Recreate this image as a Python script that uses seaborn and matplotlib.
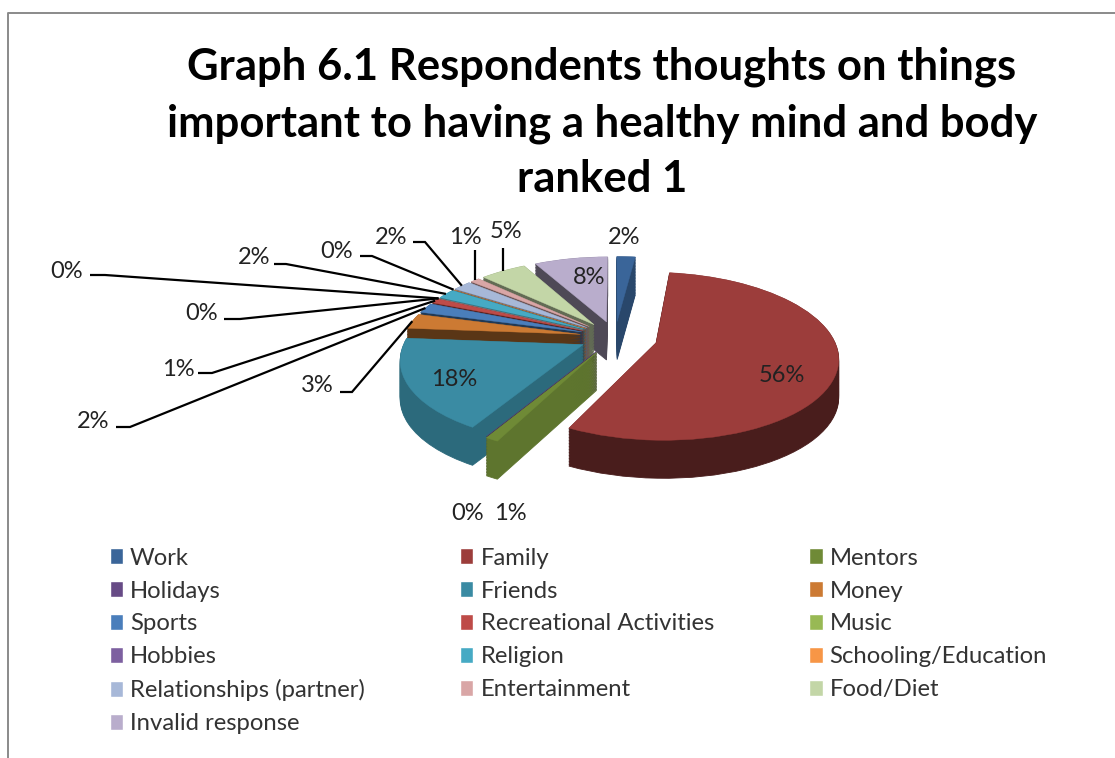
import matplotlib

matplotlib.use('Agg')
import matplotlib.pyplot as plt
import matplotlib.transforms as mtransforms
import numpy as np
import seaborn as sns
from matplotlib.colors import to_rgb
from matplotlib.patches import Patch

title = "Graph 6.1 Respondents thoughts on things\nimportant to having a healthy mind and body\nranked 1"
categories = ['Work', 'Family', 'Mentors', 'Holidays', 'Friends', 'Money', 'Sports',
              'Recreational Activities', 'Music', 'Hobbies', 'Religion',
              'Schooling/Education', 'Relationships (partner)', 'Entertainment',
              'Food/Diet', 'Invalid response']
values = [2, 56, 1, 0, 18, 3, 2, 1, 0, 0, 2, 0, 2, 1, 5, 8]
colors = ['#3a6599', '#9c3d3b', '#6f8a36', '#674b86', '#3a8ba3', '#cc7a33', '#4a7ebb', '#be4b48',
          '#98b954', '#7d60a0', '#46aac4', '#f79646', '#a7b8d8', '#d9a6a6', '#c3d6a7', '#b9adcc']
side_shade = [0.7, 0.47, 0.85, 0.5, 0.76, 0.44, 0.45, 0.45, 0.5, 0.5, 0.5, 0.5, 0.5, 0.5, 0.5, 0.42]
explode = [0.2, 0.24, 0.21, 0.2, 0.2, 0.2, 0.2, 0.2, 0.2, 0.2, 0.2, 0.2, 0.2, 0.2, 0.2, 0.2]

# where the percentages sit, in pixels
label_pos = [(624, 237), (782, 376), (510, 514), (468, 514), (454, 380), (317, 386),
             (93, 422), (178, 369), (202, 313), (67, 271), (254, 258), (337, 251),
             (391, 237), (465, 238), (506, 232), (589, 278)]
# leader line: stub start, elbow
leaders = {5: ((340, 392), (352, 392)), 6: ((116, 427), (130, 427)), 7: ((198, 373), (212, 373)),
           8: ((224, 319), (240, 319)), 9: ((90, 275), (105, 275)), 10: ((274, 264), (286, 264)),
           11: ((360, 256), (372, 256)), 12: ((413, 242), (425, 242))}
# these two just drop straight down from this height
drop_leaders = {13: 250, 14: 248}

CX, CY, RX, RY, PERSP = 615, 337, 177, 80, 0.16
DEPTH = 38


class PieView(mtransforms.Transform):
    # unit pie -> pixels, tilted with a bit of perspective
    input_dims = 2
    output_dims = 2

    def __init__(self, drop=0):
        super().__init__()
        self.drop = drop

    def transform_non_affine(self, values):
        xy = np.asarray(values, dtype=float)
        k = 1 / (1 + PERSP * xy[:, 1])
        return np.column_stack([CX + RX * k * xy[:, 0], CY - RY * k * xy[:, 1] + self.drop])


def slice_edge(w, view):
    mid = np.radians((w.theta1 + w.theta2) / 2)
    edge = np.array([[w.center[0] + np.cos(mid), w.center[1] + np.sin(mid)]])
    return view.transform_non_affine(edge)[0]


sns.set_theme(style='white')
plt.rcParams['font.family'] = ['Lato', 'DejaVu Sans']

fig = plt.figure(figsize=(11.15, 7.58), dpi=100)
ax = fig.add_axes([0, 0, 1, 1])

# side walls: stack of darker pies, lowest first
dark = [tuple(v * s for v in to_rgb(c)) for c, s in zip(colors, side_shade)]
for drop in np.arange(DEPTH, 0, -1.5):
    wedges, _ = ax.pie(values, explode=explode, colors=dark, startangle=90, counterclock=False)
    for w in wedges:
        w.set_edgecolor(w.get_facecolor())
        w.set_linewidth(0.6)
        w.set_transform(PieView(drop) + ax.transData)

wedges, _ = ax.pie(values, explode=explode, colors=colors, startangle=90, counterclock=False)
top_view = PieView(0)
for w in wedges:
    w.set_edgecolor(w.get_facecolor())
    w.set_linewidth(0.3)
    w.set_transform(top_view + ax.transData)

ax.set_aspect('auto')
ax.set_xlim(0, 1115)
ax.set_ylim(758, 0)
ax.axis('off')

# leader lines end on the outer edge of their slice
for i, (start, elbow) in leaders.items():
    end = slice_edge(wedges[i], top_view)
    ax.plot([start[0], elbow[0], end[0]], [start[1], elbow[1], end[1]],
            color='black', lw=1.6, solid_capstyle='butt', solid_joinstyle='miter')
for i, y in drop_leaders.items():
    end = slice_edge(wedges[i], top_view)
    ax.plot([end[0], end[0]], [y, end[1]], color='black', lw=1.6, solid_capstyle='butt')

for v, (x, y) in zip(values, label_pos):
    ax.text(x, y, f'{v}%', ha='center', va='center', fontsize=17, color='#222222')

ax.text(602, 123, title, ha='center', va='center', fontsize=31.4, fontweight='bold',
        color='black', linespacing=1.48)

# frame of the original screenshot
ax.plot([1115, 8, 8], [13, 13, 758], color='#8a8a8a', lw=1.4)

# 3 columns fill top to bottom, so this gives the row order of the original
handles = [Patch(facecolor=c, label=n) for c, n in zip(colors, categories)]
order = [0, 3, 6, 9, 12, 15, 1, 4, 7, 10, 13, 2, 5, 8, 11, 14]
leg = ax.legend([handles[i] for i in order], [categories[i] for i in order], ncols=3,
                loc='upper left', bbox_to_anchor=(100 / 1115, 1 - 538 / 758), frameon=False,
                fontsize=17.2, handlelength=0.55, handleheight=0.62, handletextpad=0.3,
                labelspacing=0.5, columnspacing=4.0, labelcolor='#333333', borderpad=0.4,
                borderaxespad=0)

fig.savefig('out.png', dpi=100)
plt.close(fig)
